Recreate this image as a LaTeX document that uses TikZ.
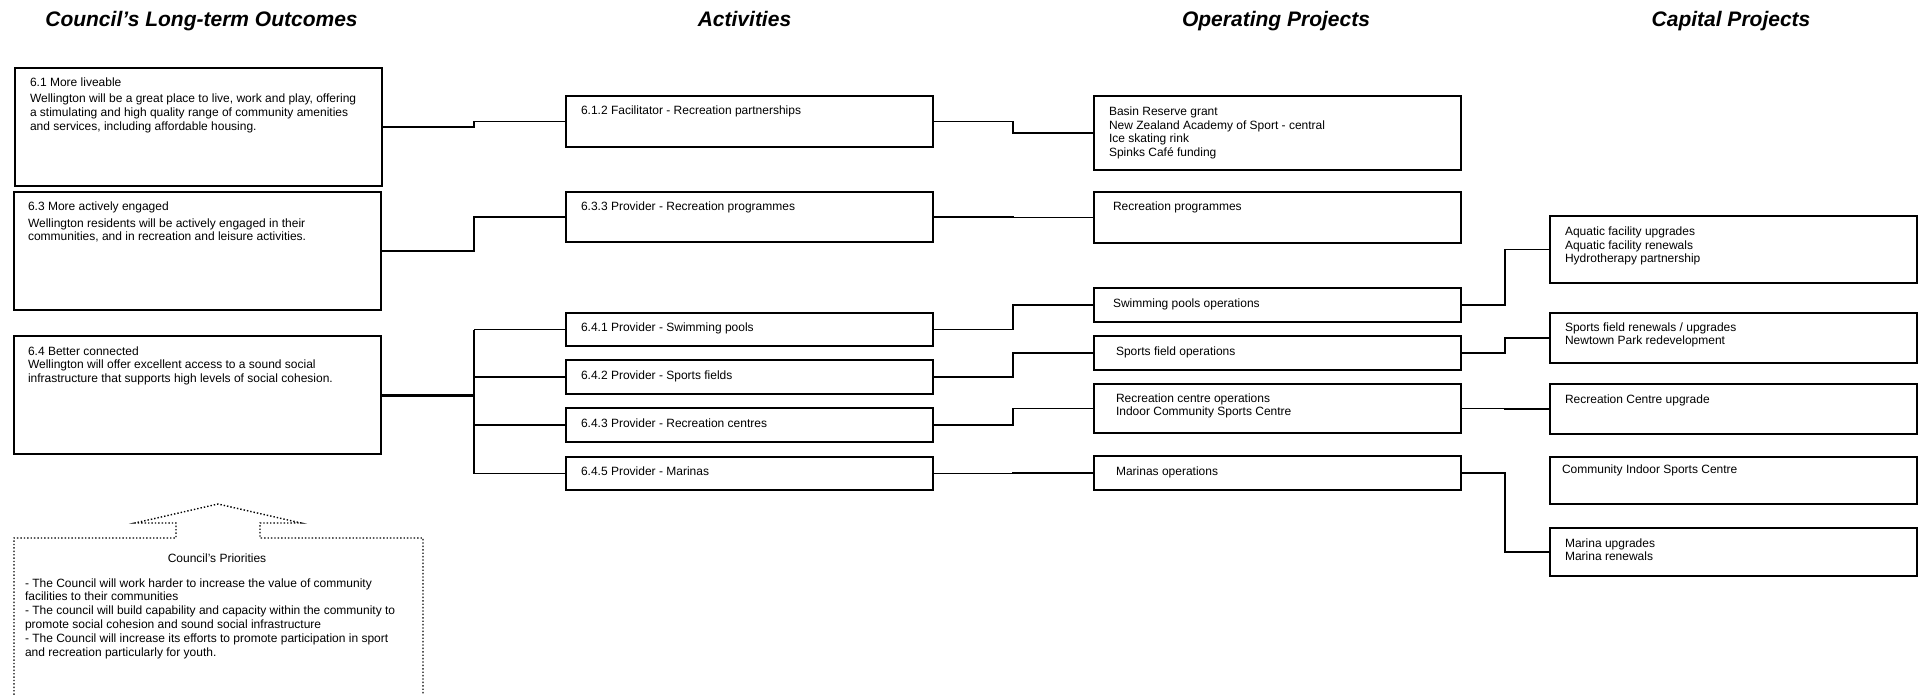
\documentclass[tikz,border=0pt]{standalone}
\usepackage{fontspec}
\setmainfont{Liberation Sans}
\newcommand\ml[1]{\begin{tabular}[t]{@{}l@{}}#1\end{tabular}}
\newcommand\bx[4]{\node[box,minimum height=#4pt] (#1) at (#2,#3) {};}
\begin{document}
\begin{tikzpicture}[x=1pt,y=-1pt,
  box/.style={draw, line width=1.6pt, rectangle, inner sep=0pt, outer sep=0pt, anchor=north west, minimum width=367pt},
  txt/.style={anchor=base west, inner sep=0pt, outer sep=0pt, font=\fontsize{12}{13.8}\selectfont},
  txtb/.style={txt, font=\fontsize{12}{13.5}\selectfont},
  ttl/.style={anchor=base, inner sep=0pt, font=\fontsize{21}{24}\selectfont\bfseries\itshape},
  conn/.style={line width=1.5pt},
  thickconn/.style={line width=3pt},
  dotline/.style={dotted, line width=1.4pt}]
\fill[white] (0,0) rectangle (1924,695);
\useasboundingbox (0,0) rectangle (1924,695);
\clip (0,0) rectangle (1924,695);

% titles
\node[ttl] (t1) at (201.5,27) {Council’s Long-term Outcomes};
\node[ttl] (t2) at (744.5,27) {Activities};
\node[ttl] (t3) at (1276,27) {Operating Projects};
\node[ttl] (t4) at (1731,27) {Capital Projects};

% outcomes
\bx{o61}{15}{68}{118}
\bx{o63}{14}{192}{118}
\bx{o64}{14}{336}{118}
\node[txt] (o61t) at (30,87) {\ml{6.1 More liveable\\[2.2pt]
Wellington will be a great place to live, work and play, offering\\
a stimulating and high quality range of community amenities\\
and services, including affordable housing.}};
\node[txt] (o63t) at (28,211) {\ml{6.3 More actively engaged\\[3pt]
Wellington residents will be actively engaged in their\\[-0.8pt]
communities, and in recreation and leisure activities.}};
\node[txt] (o64t) at (28,355) {\ml{6.4 Better connected\\
Wellington will offer excellent access to a sound social\\
infrastructure that supports high levels of social cohesion.}};

% activities
\bx{a612}{566}{96}{51}
\bx{a633}{566}{192}{50}
\bx{a641}{566}{313}{33}
\bx{a642}{566}{360}{34}
\bx{a643}{566}{408}{34}
\bx{a645}{566}{457}{33}
\node[txt] (a612t) at (581,115) {6.1.2 Facilitator - Recreation partnerships};
\node[txt] (a633t) at (581,211) {6.3.3 Provider - Recreation programmes};
\node[txt] (a641t) at (581,331) {6.4.1 Provider - Swimming pools};
\node[txt] (a642t) at (581,379) {6.4.2 Provider - Sports fields};
\node[txt] (a643t) at (581,427) {6.4.3 Provider - Recreation centres};
\node[txt] (a645t) at (581,475) {6.4.5 Provider - Marinas};

% operating projects
\bx{p1}{1094}{96}{74}
\bx{p2}{1094}{192}{51}
\bx{p3}{1094}{288}{34}
\bx{p4}{1094}{336}{34}
\bx{p5}{1094}{384}{49}
\bx{p6}{1094}{456}{34}
\node[txtb] (p1t) at (1109,116) {\ml{Basin Reserve grant\\
New Zealand Academy of Sport - central\\
Ice skating rink\\
Spinks Café funding}};
\node[txt] (p2t) at (1113,211) {Recreation programmes};
\node[txt] (p3t) at (1113,307) {Swimming pools operations};
\node[txt] (p4t) at (1116,355) {Sports field operations};
\node[txt] (p5t) at (1116,402) {\ml{Recreation centre operations\\
Indoor Community Sports Centre}};
\node[txt] (p6t) at (1116,475) {Marinas operations};

% capital projects
\bx{c1}{1550}{216}{67}
\bx{c2}{1550}{313}{50}
\bx{c3}{1550}{384}{50}
\bx{c4}{1550}{457}{47}
\bx{c5}{1550}{528}{48}
\node[txtb] (c1t) at (1565,236) {\ml{Aquatic facility upgrades\\
Aquatic facility renewals\\
Hydrotherapy partnership}};
\node[txtb] (c2t) at (1565,331) {\ml{Sports field renewals / upgrades\\
Newtown Park redevelopment}};
\node[txt] (c3t) at (1565,403) {Recreation Centre upgrade};
\node[txt] (c4t) at (1562,473) {Community Indoor Sports Centre};
\node[txtb] (c5t) at (1565,547) {\ml{Marina upgrades\\
Marina renewals}};

% connector step columns
\coordinate (b1) at (474,0);
\coordinate (b2) at (1013,0);
\coordinate (b3) at (1505,0);

% outcomes -> activities
\draw[conn] (o61.east) -- (o61.east -| b1) |- (a612.west);
\draw[conn] (o63.east) -- (o63.east -| b1) |- (a633.west);
\draw[thickconn] (o64.east) -- (o64.east -| b1);
\draw[conn] (a641.west -| b1) -- (a645.west -| b1);
\foreach \n in {a641,a642,a643,a645} \draw[conn] (\n.west -| b1) -- (\n.west);

% activities -> operating
\draw[conn] (a612.east) -- (a612.east -| b2) |- (p1.west);
\draw[conn] (a633.east) -- (a633.east -| b2) |- (p2.west);
\draw[conn] (a641.east) -- (a641.east -| b2) |- (p3.west);
\draw[conn] (a642.east) -- (a642.east -| b2) |- (p4.west);
\draw[conn] (a643.east) -- (a643.east -| b2) |- (p5.west);
\draw[conn] (a645.east) -- (a645.east -| b2) |- (p6.west);

% operating -> capital
\draw[conn] (p3.east) -- (p3.east -| b3) |- (c1.west);
\draw[conn] (p4.east) -- (p4.east -| b3) |- (c2.west);
\draw[conn] (p5.east) -- (p5.east -| b3) |- (c3.west);
\draw[conn] (p6.east) -- (p6.east -| b3) |- (c5.west);

% council's priorities (dotted arrow box)
\draw[dotline] (14,705) -- (14,538) -- (176,538) -- (176,523) -- (135,523)
  -- (218,504) -- (301,523) -- (260,523) -- (260,538) -- (423,538) -- (423,705);
\node[anchor=base, inner sep=0pt, font=\fontsize{12}{13.8}\selectfont] (prt) at (217,562) {Council's Priorities};
\node[txt] (prb) at (25,587) {\ml{- The Council will work harder to increase the value of community\\
facilities to their communities\\
- The council will build capability and capacity within the community to\\
promote social cohesion and sound social infrastructure\\
- The Council will increase its efforts to promote participation in sport\\
and recreation particularly for youth.}};
\end{tikzpicture}
\end{document}
